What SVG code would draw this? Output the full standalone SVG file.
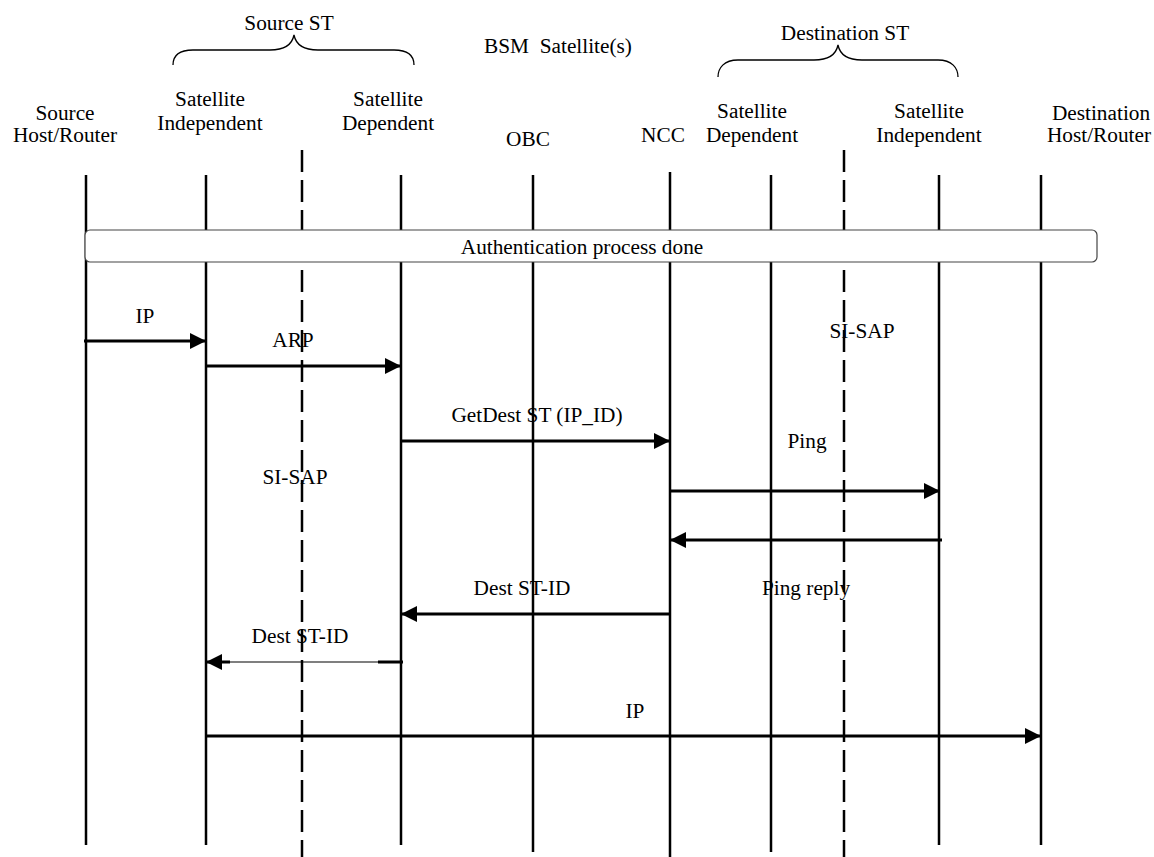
<svg xmlns="http://www.w3.org/2000/svg" width="1154" height="857" viewBox="0 0 1154 857">
<defs>
<style>
text{font-family:"Liberation Serif","Times New Roman",serif;font-size:21.3px;fill:#000;text-anchor:middle}
.life{stroke:#000;stroke-width:2.5;fill:none}
.dash{stroke:#000;stroke-width:2.5;fill:none;stroke-dasharray:22 8}
.msg{stroke:#000;stroke-width:3;fill:none}
.brace{stroke:#000;stroke-width:1.3;fill:none}
</style>
<marker id="ah" viewBox="0 0 16 16" refX="16" refY="8" markerWidth="16" markerHeight="16" markerUnits="userSpaceOnUse" orient="auto">
<path d="M0,0 L16,8 L0,16 Z" fill="#000"/>
</marker>
</defs>
<rect width="1154" height="857" fill="#fff"/>
<g id="headers">
<text x="289" y="30">Source ST</text>
<path class="brace" d="M173,65 C173,56 179,50 193,50 L270,50 C285,50 292,45 294,35 C296,45 303,50 318,50 L394,50 C408,50 414,56 414,65"/>
<text x="558" y="53" xml:space="preserve">BSM  Satellite(s)</text>
<text x="845" y="40">Destination ST</text>
<path class="brace" d="M718,77 C718,68 724,60 738,60 L814,60 C829,60 836,55 838,45 C840,55 847,60 862,60 L938,60 C952,60 958,68 958,77"/>
</g>
<g id="node-source-host"><text x="65" y="120">Source</text><text x="65" y="142">Host/Router</text><line class="life" x1="86" y1="175" x2="86" y2="845"/></g>
<g id="node-src-si"><text x="210" y="106">Satellite</text><text x="210" y="130">Independent</text><line class="life" x1="206" y1="175" x2="206" y2="845"/></g>
<g id="node-src-sap"><line class="dash" x1="302" y1="150" x2="302" y2="857"/></g>
<g id="node-src-sd"><text x="388" y="106">Satellite</text><text x="388" y="130">Dependent</text><line class="life" x1="401" y1="175" x2="401" y2="845"/></g>
<g id="node-obc"><text x="528" y="146">OBC</text><line class="life" x1="533" y1="175" x2="533" y2="852"/></g>
<g id="node-ncc"><text x="663" y="142">NCC</text><line class="life" x1="670" y1="172" x2="670" y2="857"/></g>
<g id="node-dst-sd"><text x="752" y="118">Satellite</text><text x="752" y="142">Dependent</text><line class="life" x1="771" y1="175" x2="771" y2="852"/></g>
<g id="node-dst-sap"><line class="dash" x1="844" y1="150" x2="844" y2="857"/></g>
<g id="node-dst-si"><text x="929" y="118">Satellite</text><text x="929" y="142">Independent</text><line class="life" x1="939" y1="175" x2="939" y2="845"/></g>
<g id="node-dst-host"><text x="1101" y="120">Destination</text><text x="1099" y="142">Host/Router</text><line class="life" x1="1041" y1="175" x2="1041" y2="845"/></g>
<g id="auth"><rect x="85" y="230" width="1012" height="32" rx="5" fill="#fff" stroke="#444" stroke-width="1.2"/><text x="582" y="254">Authentication process done</text></g>
<g id="connectors">
<line class="msg" x1="84" y1="341" x2="206" y2="341" marker-end="url(#ah)"/>
<line class="msg" x1="206" y1="366" x2="401" y2="366" marker-end="url(#ah)"/>
<line class="msg" x1="401" y1="441" x2="670" y2="441" marker-end="url(#ah)"/>
<line class="msg" x1="670" y1="491" x2="940" y2="491" marker-end="url(#ah)"/>
<line class="msg" x1="942" y1="540" x2="670" y2="540" marker-end="url(#ah)"/>
<line class="msg" x1="670" y1="614" x2="401" y2="614" marker-end="url(#ah)"/>
<line stroke="#000" stroke-width="1.2" x1="380" y1="662" x2="221" y2="662"/>
<line class="msg" x1="403" y1="662" x2="378" y2="662"/>
<line class="msg" x1="230" y1="662" x2="206" y2="662" marker-end="url(#ah)"/>
<line class="msg" x1="206" y1="736" x2="1041" y2="736" marker-end="url(#ah)"/>
</g>
<g id="labels">
<text x="145" y="323">IP</text>
<text x="293" y="347">ARP</text>
<text x="537" y="422">GetDest ST (IP_ID)</text>
<text x="807" y="448">Ping</text>
<text x="806" y="595">Ping reply</text>
<text x="522" y="595">Dest ST-ID</text>
<text x="300" y="643">Dest ST-ID</text>
<text x="635" y="718">IP</text>
<text x="295" y="484">SI-SAP</text>
<text x="862" y="338">SI-SAP</text>
</g>
</svg>
